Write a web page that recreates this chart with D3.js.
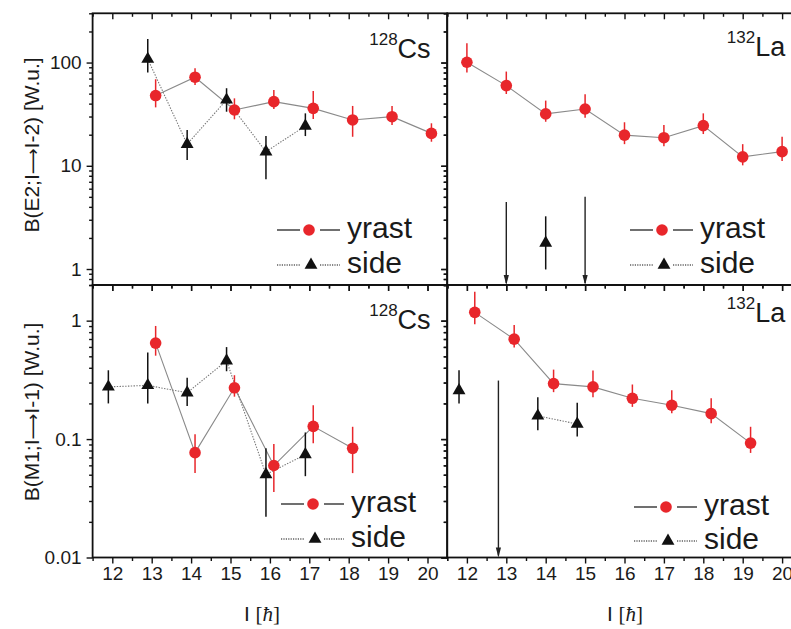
<!DOCTYPE html>
<html>
<head>
<meta charset="utf-8">
<script src="https://cdn.jsdelivr.net/npm/d3@7"></script>
<style>
  html, body { margin: 0; padding: 0; background: #fff; }
  svg { display: block; }
  text { font-family: "Liberation Sans", Arial, sans-serif; fill: #1a1a1a; }
</style>
</head>
<body>
<svg id="chart" width="791" height="629"></svg>
<script>
// ---- spin axis ----
const spinTicks = [12, 13, 14, 15, 16, 17, 18, 19, 20];
const e2Ticks = [1, 10, 100];
const e2TickLabels = ["1", "10", "100"];
const m1Ticks = [0.01, 0.1, 1];
const m1TickLabels = ["0.01", "0.1", "1"];

// ---- 128Cs, B(E2; I -> I-2) [W.u.] ----
const csE2YrastI  = [13.1, 14.1, 15.1, 16.1, 17.1, 18.1, 19.1, 20.1];
const csE2Yrast   = [47.9, 72.1, 34.7, 41.8, 36.0, 27.8, 29.9, 20.6];
const csE2YrastLo = [36.8, 60.7, 28.2, 35.5, 28.4, 19.1, 24.8, 17.1];
const csE2YrastHi = [68.9, 88.0, 45.0, 54.3, 53.0, 38.0, 38.0, 25.8];
const csE2SideI   = [12.9, 13.9, 14.9, 15.9, 16.9];
const csE2Side    = [108, 16.2, 43.5, 13.7, 24.3];
const csE2SideLo  = [80, 11.4, 33.4, 7.4, 19.4];
const csE2SideHi  = [169, 22.2, 56.4, 19.4, 32.2];

// ---- 132La, B(E2; I -> I-2) [W.u.] ----
const laE2YrastI  = [12, 13, 14, 15, 16, 17, 18, 19, 20];
const laE2Yrast   = [100.7, 59.8, 31.8, 35.5, 19.8, 18.7, 24.5, 12.2, 13.7];
const laE2YrastLo = [80, 49.6, 26.7, 29.2, 16.2, 15.5, 20.3, 10.1, 11.1];
const laE2YrastHi = [154, 81.8, 42.8, 49.3, 26.4, 24.8, 32.2, 16.2, 19.1];
const laE2SideI   = [14];
const laE2Side    = [1.79];
const laE2SideLo  = [0.99];
const laE2SideHi  = [3.24];
const laE2LimitI  = [13, 15];      // upper limits
const laE2Limit   = [4.47, 5.0];

// ---- 128Cs, B(M1; I -> I-1) [W.u.] ----
const csM1YrastI  = [13.1, 14.1, 15.1, 16.1, 17.1, 18.1];
const csM1Yrast   = [0.646, 0.0768, 0.271, 0.0598, 0.128, 0.0835];
const csM1YrastLo = [0.506, 0.0516, 0.228, 0.0357, 0.092, 0.0516];
const csM1YrastHi = [0.902, 0.110, 0.346, 0.0908, 0.193, 0.127];
const csM1SideI   = [11.9, 12.9, 13.9, 14.9, 15.9, 16.9];
const csM1Side    = [0.276, 0.284, 0.246, 0.459, 0.0502, 0.0740];
const csM1SideLo  = [0.200, 0.200, 0.190, 0.374, 0.0221, 0.0486];
const csM1SideHi  = [0.381, 0.539, 0.329, 0.598, 0.0835, 0.1137];

// ---- 132La, B(M1; I -> I-1) [W.u.] ----
const laM1YrastI  = [12.2, 13.2, 14.2, 15.2, 16.2, 17.2, 18.2, 19.2];
const laM1Yrast   = [1.175, 0.698, 0.294, 0.276, 0.221, 0.193, 0.164, 0.0925];
const laM1YrastLo = [0.932, 0.594, 0.249, 0.226, 0.187, 0.165, 0.136, 0.0764];
const laM1YrastHi = [1.75, 0.920, 0.386, 0.379, 0.289, 0.258, 0.221, 0.127];
const laM1SideI   = [11.8, 13.8, 14.8];
const laM1Side    = [0.257, 0.157, 0.134];
const laM1SideLo  = [0.200, 0.119, 0.105];
const laM1SideHi  = [0.381, 0.226, 0.203];
const laM1LimitI  = [12.8];
const laM1Limit   = [0.312];

const RED = "#e8262b";
const DARK = "#111";

function pts(I, v, lo, hi) {
  return I.map((d, i) => ({ I: d, v: v[i], lo: lo[i], hi: hi[i] }));
}

const svg = d3.select("#chart");
svg.append("rect").attr("width", 791).attr("height", 629).attr("fill", "#fff");

const xLeft  = d3.scaleLinear().domain([11.5, 20.5]).range([92.6, 447.2]);
const xRight = d3.scaleLinear().domain([11.5, 20.5]).range([447.2, 801.8]);
const yE2 = d3.scaleLog().domain([0.7, 300]).range([285, 13.3]);
const yM1 = d3.scaleLog().domain([0.01, 2]).range([557.5, 285]);

const panels = [
  { x: xLeft,  y: yE2, label: ["128", "Cs"], labelY: 58,
    yrast: pts(csE2YrastI, csE2Yrast, csE2YrastLo, csE2YrastHi),
    side: pts(csE2SideI, csE2Side, csE2SideLo, csE2SideHi), limits: [],
    legend: { x: 277, y1: 230, y2: 265 } },
  { x: xRight, y: yE2, label: ["132", "La"], labelY: 56,
    yrast: pts(laE2YrastI, laE2Yrast, laE2YrastLo, laE2YrastHi),
    side: pts(laE2SideI, laE2Side, laE2SideLo, laE2SideHi),
    limits: laE2LimitI.map((d, i) => ({ I: d, v: laE2Limit[i] })),
    legend: { x: 630, y1: 230, y2: 265 } },
  { x: xLeft,  y: yM1, label: ["128", "Cs"], labelY: 329,
    yrast: pts(csM1YrastI, csM1Yrast, csM1YrastLo, csM1YrastHi),
    side: pts(csM1SideI, csM1Side, csM1SideLo, csM1SideHi), limits: [],
    legend: { x: 281, y1: 504, y2: 539 } },
  { x: xRight, y: yM1, label: ["132", "La"], labelY: 322,
    yrast: pts(laM1YrastI, laM1Yrast, laM1YrastLo, laM1YrastHi),
    side: pts(laM1SideI, laM1Side, laM1SideLo, laM1SideHi),
    limits: laM1LimitI.map((d, i) => ({ I: d, v: laM1Limit[i] })),
    legend: { x: 634, y1: 507, y2: 541 } }
];

const halfTicks = d3.range(11.5, 20.51, 0.5).filter(d => !Number.isInteger(d));
const tri = d3.symbol().type(d3.symbolTriangle).size(72);

// split a series into runs of consecutive spins
function runs(data) {
  const out = [];
  let cur = [];
  data.forEach((d, i) => {
    if (i > 0 && d.I - data[i - 1].I > 1.05) { out.push(cur); cur = []; }
    cur.push(d);
  });
  if (cur.length) out.push(cur);
  return out.filter(r => r.length > 1);
}

panels.forEach((p, k) => {
  const g = svg.append("g");
  const [x0, x1] = p.x.range();
  const [y0, y1] = p.y.range(); // y0 bottom, y1 top
  const isBottom = p.y === yM1;
  const isLeft = p.x === xLeft;

  // spin axes: bottom outward, top inward
  const bot = g.append("g").attr("transform", `translate(0,${y0})`);
  bot.call(d3.axisBottom(p.x).tickValues(spinTicks).tickSize(6).tickSizeOuter(0)
    .tickFormat(isBottom ? d3.format("d") : ""));
  bot.call(g2 => g2.append("g").call(d3.axisBottom(p.x).tickValues(halfTicks).tickSize(3.5).tickFormat("").tickSizeOuter(0)));
  const top = g.append("g").attr("transform", `translate(0,${y1})`);
  top.call(d3.axisTop(p.x).tickValues(spinTicks).tickSize(-6).tickFormat("").tickSizeOuter(0));
  top.append("g").call(d3.axisTop(p.x).tickValues(halfTicks).tickSize(-3.5).tickFormat("").tickSizeOuter(0));

  // value axes: left outward, right inward
  const majors = isBottom ? m1Ticks : e2Ticks;
  const majorLabels = isBottom ? m1TickLabels : e2TickLabels;
  const minors = p.y.ticks().filter(v => !majors.some(m => Math.abs(m - v) / m < 1e-6));
  const left = g.append("g").attr("transform", `translate(${x0},0)`);
  left.call(d3.axisLeft(p.y).tickValues(majors).tickSize(6).tickSizeOuter(0)
    .tickFormat(isLeft ? (d, i) => majorLabels[i] : ""));
  left.append("g").call(d3.axisLeft(p.y).tickValues(minors).tickSize(3.5).tickFormat("").tickSizeOuter(0));
  const right = g.append("g").attr("transform", `translate(${x1},0)`);
  right.call(d3.axisRight(p.y).tickValues(majors).tickSize(-6).tickFormat("").tickSizeOuter(0));
  right.append("g").call(d3.axisRight(p.y).tickValues(minors).tickSize(-3.5).tickFormat("").tickSizeOuter(0));

  g.selectAll(".domain").remove();
  g.selectAll(".tick line").attr("stroke", DARK).attr("stroke-width", 1.4);
  g.selectAll(".tick text").attr("font-size", 19).attr("fill", "#1a1a1a")
    .style("font-family", '"Liberation Sans", Arial, sans-serif');
  bot.selectAll(".tick text").attr("dy", null).attr("y", 22);
  left.selectAll(".tick text").attr("x", -11);

  // frame
  g.append("rect").attr("x", x0).attr("y", y1).attr("width", x1 - x0).attr("height", y0 - y1)
    .attr("fill", "none").attr("stroke", DARK).attr("stroke-width", 1.8);

  const plot = g.append("g");
  const line = d3.line().x(d => p.x(d.I)).y(d => p.y(d.v));

  // connecting lines
  runs(p.yrast).forEach(r => plot.append("path").attr("d", line(r))
    .attr("fill", "none").attr("stroke", "#8a8a8a").attr("stroke-width", 1.1));
  runs(p.side).forEach(r => plot.append("path").attr("d", line(r))
    .attr("fill", "none").attr("stroke", "#777").attr("stroke-width", 1.1)
    .attr("stroke-dasharray", "1.4,1.4"));

  // upper limits
  p.limits.forEach(d => {
    const xx = p.x(d.I), yt = p.y(d.v);
    plot.append("line").attr("x1", xx).attr("x2", xx).attr("y1", yt).attr("y2", y0 - 2)
      .attr("stroke", "#222").attr("stroke-width", 1.4);
    plot.append("path").attr("d", `M${xx - 2.6},${y0 - 10} L${xx + 2.6},${y0 - 10} L${xx},${y0} Z`)
      .attr("fill", "#222");
  });

  // error bars
  plot.selectAll(null).data(p.side).join("line")
    .attr("x1", d => p.x(d.I)).attr("x2", d => p.x(d.I))
    .attr("y1", d => p.y(d.lo)).attr("y2", d => p.y(d.hi))
    .attr("stroke", DARK).attr("stroke-width", 1.5);
  plot.selectAll(null).data(p.yrast).join("line")
    .attr("x1", d => p.x(d.I)).attr("x2", d => p.x(d.I))
    .attr("y1", d => p.y(d.lo)).attr("y2", d => p.y(d.hi))
    .attr("stroke", RED).attr("stroke-width", 1.5);

  // markers
  plot.selectAll(null).data(p.side).join("path")
    .attr("d", tri).attr("transform", d => `translate(${p.x(d.I)},${p.y(d.v)})`)
    .attr("fill", DARK);
  plot.selectAll(null).data(p.yrast).join("circle")
    .attr("cx", d => p.x(d.I)).attr("cy", d => p.y(d.v)).attr("r", 5.8)
    .attr("fill", RED);

  // nucleus label
  const lab = g.append("text").attr("x", x0 + 338).attr("y", p.labelY)
    .attr("text-anchor", "end").attr("font-size", 27);
  lab.append("tspan").attr("font-size", 17).attr("dy", -13).text(p.label[0]);
  lab.append("tspan").attr("dy", 13).text(p.label[1]);

  // legend
  const L = p.legend;
  const lg = g.append("g");
  lg.append("line").attr("x1", L.x).attr("x2", L.x + 23).attr("y1", L.y1).attr("y2", L.y1)
    .attr("stroke", DARK).attr("stroke-width", 1.2);
  lg.append("line").attr("x1", L.x + 43).attr("x2", L.x + 63).attr("y1", L.y1).attr("y2", L.y1)
    .attr("stroke", DARK).attr("stroke-width", 1.2);
  lg.append("circle").attr("cx", L.x + 32).attr("cy", L.y1).attr("r", 5.8).attr("fill", RED);
  lg.append("text").attr("x", L.x + 70).attr("y", L.y1 + 8).attr("font-size", 30).text("yrast");
  lg.append("line").attr("x1", L.x).attr("x2", L.x + 23).attr("y1", L.y2).attr("y2", L.y2)
    .attr("stroke", DARK).attr("stroke-width", 1.2).attr("stroke-dasharray", "1.2,1.2");
  lg.append("line").attr("x1", L.x + 43).attr("x2", L.x + 63).attr("y1", L.y2).attr("y2", L.y2)
    .attr("stroke", DARK).attr("stroke-width", 1.2).attr("stroke-dasharray", "1.2,1.2");
  lg.append("path").attr("d", tri).attr("transform", `translate(${L.x + 34},${L.y2})`).attr("fill", DARK);
  lg.append("text").attr("x", L.x + 70).attr("y", L.y2 + 8).attr("font-size", 30).text("side");

  // spin axis title
  if (isBottom) {
    const t = svg.append("text").attr("x", isLeft ? 262 : 625).attr("y", 621)
      .attr("text-anchor", "middle").attr("font-size", 21);
    t.append("tspan").text("I ");
    t.append("tspan").style("font-family", '"Liberation Serif", "Times New Roman", serif').text("[");
    t.append("tspan").style("font-family", '"Liberation Serif", "Times New Roman", serif')
      .style("font-style", "italic").text("ħ");
    t.append("tspan").style("font-family", '"Liberation Serif", "Times New Roman", serif').text("]");
  }
});

// value axis titles, with a long transition arrow
function axisTitle(cy, head, tail) {
  const t = svg.append("text").attr("transform", `translate(39,${cy}) rotate(-90)`)
    .attr("text-anchor", "middle").attr("font-size", 21);
  t.append("tspan").text(head);
  t.append("tspan").style("font-family", '"DejaVu Sans", sans-serif').attr("font-size", 18).text("⟶");
  t.append("tspan").text(tail);
}
axisTitle(145, "B(E2;I", "I-2) [W.u.]");
axisTitle(412, "B(M1;I", "I-1) [W.u.]");
</script>
</body>
</html>
